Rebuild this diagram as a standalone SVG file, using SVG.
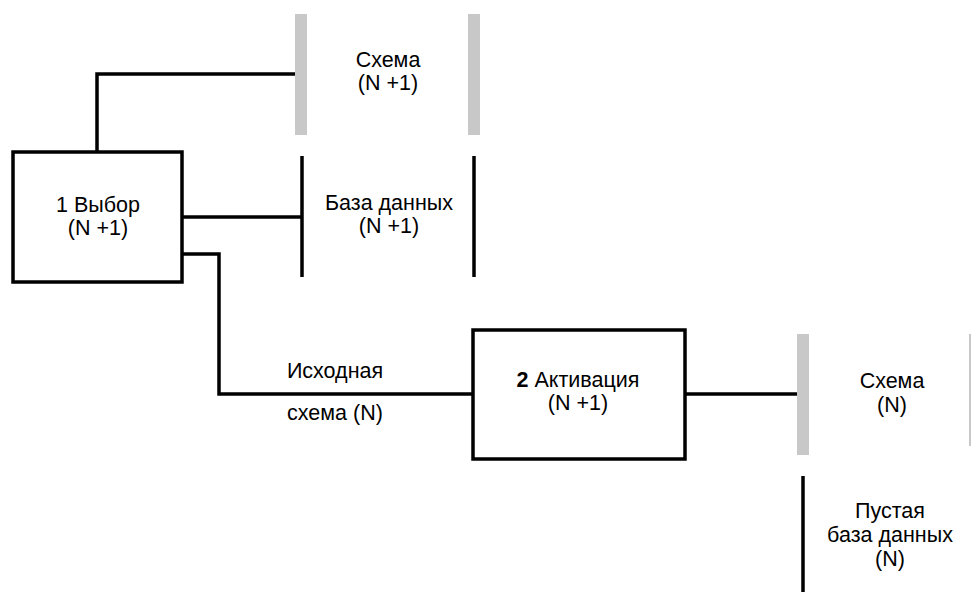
<svg xmlns="http://www.w3.org/2000/svg" width="971" height="592" viewBox="0 0 971 592">
<style>
.bg{fill:#ffffff}
.box{fill:none;stroke:#000;stroke-width:3.5}
.con{fill:none;stroke:#000;stroke-width:3.5}
.gray{fill:#c8c8c8}
.blk{stroke:#000;stroke-width:3.5}
text{font-family:"Liberation Sans",Arial,sans-serif;font-size:21.5px;fill:#000;text-anchor:middle}
</style>
<rect class="bg" x="0" y="0" width="971" height="592"/>
<g id="connectors">
<polyline class="con" points="297,74 97,74 97,152"/>
<line class="con" x1="182" y1="217" x2="302" y2="217"/>
<polyline class="con" points="182,254 219,254 219,394 473,394"/>
<line class="con" x1="685" y1="394" x2="798" y2="394"/>
</g>
<g id="node-select">
<rect class="box" x="13" y="152" width="169" height="130"/>
<text x="98" y="212">1 Выбор</text>
<text x="98" y="235">(N +1)</text>
</g>
<g id="store-schema-n1">
<rect class="gray" x="295" y="14" width="12" height="121"/>
<rect class="gray" x="468" y="14" width="12" height="121"/>
<text x="388" y="67">Схема</text>
<text x="388" y="90">(N +1)</text>
</g>
<g id="store-db-n1">
<line class="blk" x1="302" y1="156" x2="302" y2="277"/>
<line class="blk" x1="474" y1="156" x2="474" y2="277"/>
<text x="389" y="210">База данных</text>
<text x="389" y="233">(N +1)</text>
</g>
<g id="label-source">
<text x="335" y="378">Исходная</text>
<text x="335" y="420">схема (N)</text>
</g>
<g id="node-activate">
<rect class="box" x="473" y="330" width="212" height="129"/>
<text x="578" y="387"><tspan font-weight="bold">2</tspan> Активация</text>
<text x="578" y="410">(N +1)</text>
</g>
<g id="store-schema-n">
<rect class="gray" x="797" y="334" width="12" height="121"/>
<rect class="gray" x="969" y="334" width="2" height="112"/>
<text x="892" y="388">Схема</text>
<text x="892" y="412">(N)</text>
</g>
<g id="store-empty-db">
<line class="blk" x1="803" y1="476" x2="803" y2="592"/>
<text x="890" y="518">Пустая</text>
<text x="890" y="542">база данных</text>
<text x="890" y="566">(N)</text>
</g>
</svg>
